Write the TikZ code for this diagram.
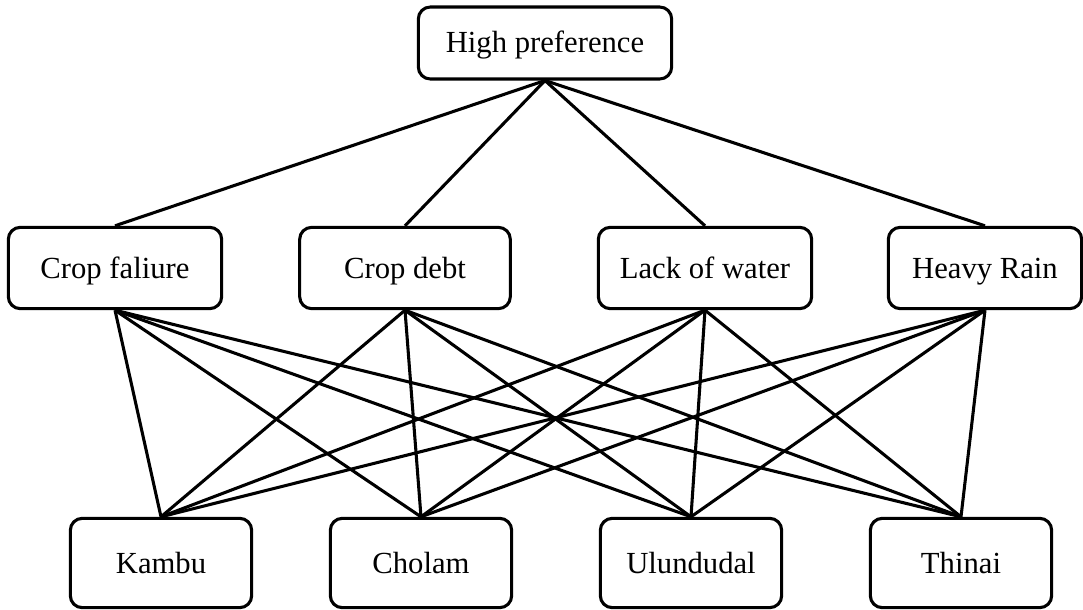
\documentclass[tikz,border=0pt]{standalone}
\usepackage{fontspec}
\setmainfont{Liberation Serif}
\usetikzlibrary{positioning}

\begin{document}
\begin{tikzpicture}[x=0.75pt, y=-0.75pt, line width=2.3pt,
    box/.style={draw, rounded corners=9pt, inner sep=0pt, align=center,
      text height=17pt, text depth=2pt, font=\fontsize{23}{27}\selectfont}]
    \useasboundingbox (0,0) rectangle (1083,610);

    % goal
    \node[box, minimum width=190pt, minimum height=54pt] (hp) at (545,43) {High preference};

    % criteria
    \foreach \n/\x/\w/\l in {cf/115/160pt/Crop faliure, cd/405/158pt/Crop debt,
                             lw/705/160pt/Lack of water, hr/985/145pt/Heavy Rain} {
      \node[box, minimum width=\w, minimum height=61pt] (\n) at (\x,268) {\l};
    }

    % alternatives
    \foreach \n/\x/\l in {kb/161/Kambu, ch/421/Cholam, ul/691/Ulundudal, th/961/Thinai} {
      \node[box, minimum width=136pt, minimum height=67pt] (\n) at (\x,563) {\l};
    }

    \foreach \m in {cf,cd,lw,hr} {
      \draw (hp.south) -- (\m.north);
      \foreach \b in {kb,ch,ul,th}
        \draw (\m.south) -- (\b.north);
    }
  \end{tikzpicture}
\end{document}
